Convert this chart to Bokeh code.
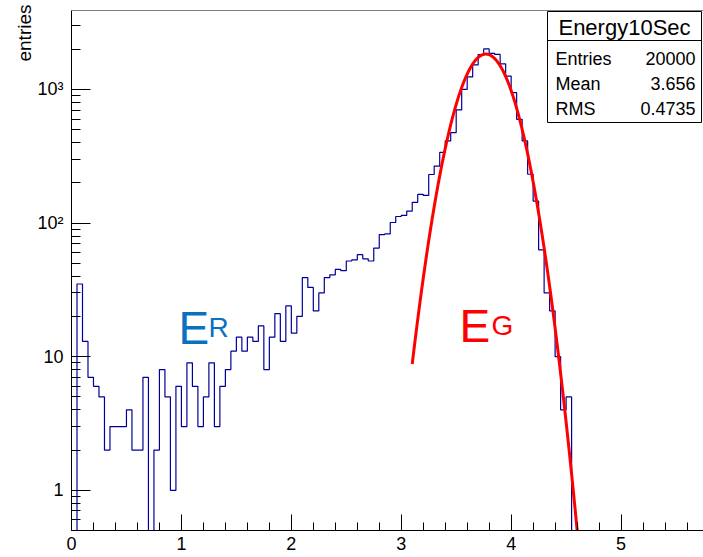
import math
from bokeh.plotting import figure
from bokeh.models import FixedTicker, Span, Title
from bokeh.core.properties import value
from bokeh.embed import file_html
from bokeh.resources import INLINE

# ---------------- data ----------------
BIN_WIDTH = 0.05
counts = [0, 35, 13, 7, 6, 5, 2, 3, 3, 3,
          4, 2, 2, 7, 0, 2, 8, 5, 1, 6,
          3, 9, 6, 3, 5, 9, 3, 6, 8, 11,
          14, 11, 14, 13, 17, 8, 14, 21, 13, 24,
          15, 20, 39, 33, 22, 30, 39, 41, 45, 44,
          52, 53, 58, 54, 52, 65, 82, 83, 101, 112,
          114, 123, 143, 164, 161, 231, 267, 338, 412, 475,
          703, 1000, 1241, 1530, 1825, 2010, 1865, 1830, 1555, 1260,
          946, 598, 412, 232, 146, 63, 30, 22, 10, 4,
          5, 0, 0]
# Gaussian fit drawn in red
FIT_CONSTANT = 1840.0
FIT_MEAN = 3.77
FIT_SIGMA = 0.205
FIT_RANGE = (3.10, 4.66)

x_ticks = [0, 1, 2, 3, 4, 5]
y_ticks = [1, 10, 100, 1000]
y_tick_labels = {1: "1", 10: "10", 100: "10\u00b2", 1000: "10\u00b3"}

stats_title = "Energy10Sec"
stats_names = ["Entries", "Mean", "RMS"]
stats_values = ["20000", "3.656", "0.4735"]

# ---------------- geometry ----------------
W, H = 703, 557
FL, FR, FT, FB = 71, 703, 10, 530
X0, X1 = 0.0, 5.75
Y0, Y1 = 0.5, 3900.0
FONT = "Liberation Sans"


def px_x(px):
    return X0 + (px - FL) / (FR - FL) * (X1 - X0)


def px_y(py):
    l0, l1 = math.log10(Y0), math.log10(Y1)
    return 10 ** (l0 + (FB - py) / (FB - FT) * (l1 - l0))


p = figure(width=W, height=H, x_range=(X0, X1), y_range=(Y0, Y1),
           y_axis_type="log", output_backend="svg", toolbar_location=None,
           min_border_left=FL, min_border_right=0, min_border_top=FT,
           min_border_bottom=H - FB)
p.background_fill_color = "white"
p.border_fill_color = "white"
p.outline_line_color = None
p.grid.visible = False

# axes
p.xaxis.ticker = FixedTicker(ticks=x_ticks,
                             minor_ticks=[round(i * 0.2, 2) for i in range(0, 29)])
minor_y = []
for dec in [0.1, 1, 10, 100, 1000]:
    for m in range(2, 10):
        minor_y.append(m * dec)
p.yaxis.ticker = FixedTicker(ticks=y_ticks, minor_ticks=minor_y)
p.yaxis.major_label_overrides = y_tick_labels

for ax, maj, mino in ((p.xaxis, 16, 8), (p.yaxis, 19, 9)):
    ax.axis_line_color = "black"
    ax.axis_line_width = 1
    ax.major_tick_in = maj
    ax.major_tick_out = 0
    ax.minor_tick_in = mino
    ax.minor_tick_out = 0
    ax.major_tick_line_color = "black"
    ax.minor_tick_line_color = "black"
    ax.major_label_text_font = FONT
    ax.major_label_text_font_size = "18px"
    ax.major_label_text_color = "black"
p.xaxis.major_label_standoff = 6
p.yaxis.major_label_standoff = 8

p.add_layout(Title(text="entries", align="right", text_font=FONT,
                   text_font_size="19px", text_font_style="normal",
                   text_color="black", standoff=0, offset=-6), "left")

# top frame line
p.add_layout(Span(location=Y1, dimension="width", line_color="black", line_width=1))

# histogram
edges = [i * BIN_WIDTH for i in range(len(counts) + 1)]
ys = [c if c > 0 else 1e-3 for c in counts]
ys = ys + [ys[-1]]
p.step(edges, ys, mode="after", line_color="#000099", line_width=1.2)

# fit curve
n = 300
fx = [FIT_RANGE[0] + (FIT_RANGE[1] - FIT_RANGE[0]) * i / (n - 1) for i in range(n)]
fy = [FIT_CONSTANT * math.exp(-0.5 * ((x - FIT_MEAN) / FIT_SIGMA) ** 2) for x in fx]
p.line(fx, fy, line_color="#ff0000", line_width=3)

# E_R / E_G labels
p.text(x=[px_x(178)], y=[px_y(327)], text=["E"], text_font=value(FONT),
       text_font_size="46px", text_color="#0a70c0", text_baseline="alphabetic")
p.text(x=[px_x(208)], y=[px_y(327)], text=["R"], text_font=value(FONT),
       text_font_size="28px", text_color="#0a70c0", text_baseline="alphabetic")
p.text(x=[px_x(459)], y=[px_y(325)], text=["E"], text_font=value(FONT),
       text_font_size="46px", text_color="#ff0000", text_baseline="alphabetic")
p.text(x=[px_x(491)], y=[px_y(325)], text=["G"], text_font=value(FONT),
       text_font_size="28px", text_color="#ff0000", text_baseline="alphabetic")

# stats box
BL, BR, BT, BB, BSEP = 547, 701, 11, 122, 40
p.quad(left=[px_x(BL)], right=[px_x(BR)], top=[px_y(BT)], bottom=[px_y(BB)],
       fill_color="white", line_color="black", line_width=1)
p.segment(x0=[px_x(BL)], x1=[px_x(BR)], y0=[px_y(BSEP)], y1=[px_y(BSEP)],
          line_color="black", line_width=1)
p.text(x=[px_x((BL + BR) / 2)], y=[px_y(27)], text=[stats_title],
       text_font=value(FONT), text_font_size="22px", text_align="center",
       text_baseline="middle", text_color="black")
row_y = [58, 83, 108]
p.text(x=[px_x(555)] * 3, y=[px_y(v) for v in row_y], text=stats_names,
       text_font=value(FONT), text_font_size="18px", text_align="left",
       text_baseline="middle", text_color="black")
p.text(x=[px_x(695)] * 3, y=[px_y(v) for v in row_y], text=stats_values,
       text_font=value(FONT), text_font_size="18px", text_align="right",
       text_baseline="middle", text_color="black")

open("out.html", "w").write(file_html(p, INLINE))
